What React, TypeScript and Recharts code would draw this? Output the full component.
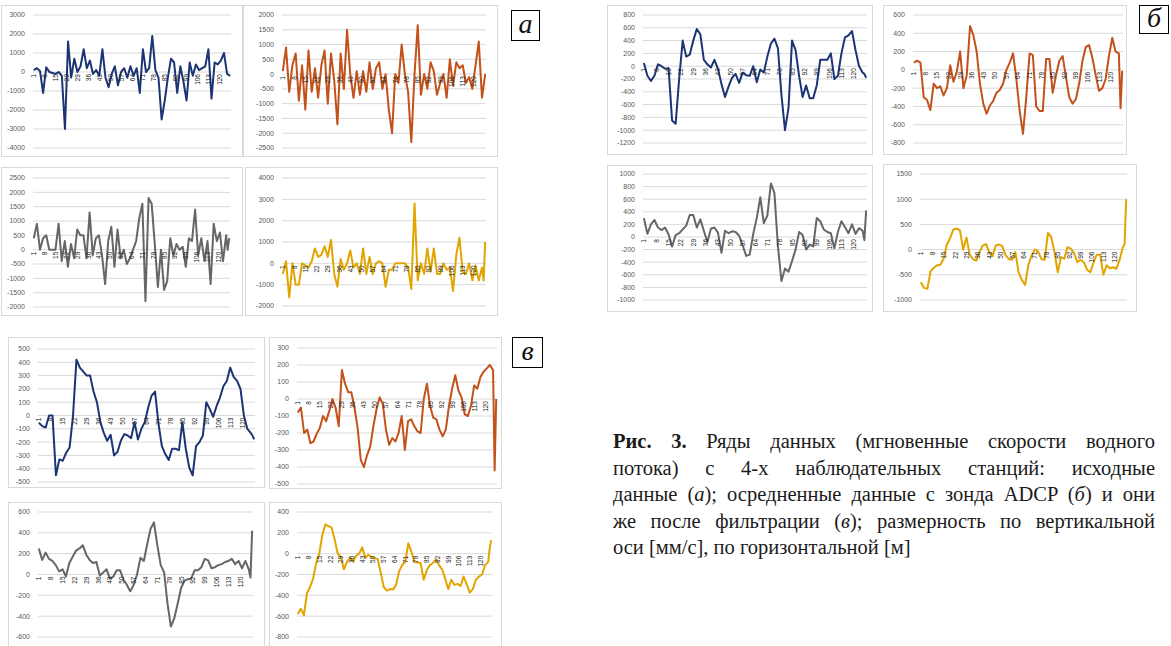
import React from "react";
import { LineChart, Line, XAxis, YAxis, CartesianGrid } from "recharts";

// measurement index (metres), every second point plus the last ones
const xIndex = [
  1, 3, 5, 7, 9, 11, 13, 15, 17, 19, 21, 23, 25, 27, 29, 31, 33, 35, 37, 39,
  41, 43, 45, 47, 49, 51, 53, 55, 57, 59, 61, 63, 65, 67, 69, 71, 73, 75, 77, 79,
  81, 83, 85, 87, 89, 91, 93, 95, 97, 99, 101, 103, 105, 107, 109, 111, 113, 115,
  117, 119, 121, 123, 125, 126, 127,
];
const xTicks = [1, 8, 15, 22, 29, 36, 43, 50, 57, 64, 71, 78, 85, 92, 99, 106, 113, 120];

// (а) raw data
const rawSt1 = [
  100, 200, 50, -1100, 250, 0, -50, -100, 0, -200,
  -3000, 1600, -300, 700, 0, 300, 1200, 200, 600, -100,
  100, -200, 1200, -300, -800, -100, 300, -700, 0, 200,
  -300, 300, -200, 200, -1100, 1200, 0, 200, 1900, 100,
  -300, -2500, -1500, -300, 700, 500, -1100, 300, -500, -1500,
  500, -200, 400, 100, 200, 300, 1200, -1400, 500, 400,
  600, 1000, -100, -150, -200,
];
const rawSt2 = [
  100, 900, -600, 300, 700, -900, 300, -1200, 800, -600,
  200, -800, 300, 800, -1000, 700, -200, -1700, 700, -500,
  1500, 0, -800, 100, -700, 100, -600, 400, -500, 200,
  400, -500, 0, -1200, -2000, 0, -300, 1000, 0, -600,
  -2300, 0, 1650, -700, 0, -500, 400, 100, -700, -300,
  0, -800, 500, -400, 400, 200, 300, -300, -100, -500,
  300, 1100, -800, -400, 0,
];
const rawSt3 = [
  400, 900, 0, 400, 500, 0, 0, 0, 900, -400,
  300, -600, 200, -300, 700, 500, 500, -300, 1300, -200,
  400, 500, -200, -1200, 300, 800, -600, 700, -300, 0,
  -500, -300, 0, 300, 1100, 1600, -1800, 1800, 1600, 200,
  -1300, 0, -1400, -1100, 400, -200, 200, 0, 100, -600,
  400, 300, 1400, -200, 400, -400, 300, -1200, 900, 300,
  600, -400, 500, 0, 400,
];
const rawSt4 = [
  -500, 100, -1600, 0, -1000, -1000, 0, -100, -200, 100,
  700, 300, 400, 800, 300, 1100, -500, -1100, 200, -300,
  0, 600, -200, 0, -500, 700, -500, 300, -500, 0,
  100, 0, -1100, -300, -300, 0, 0, 0, 0, -200,
  -1200, 2800, -800, 0, -500, 700, -400, 700, -500, -500,
  0, -300, -200, -1300, 400, 1200, -400, -500, 0, -800,
  -100, -800, -200, -800, 1000,
];

// (б) ADCP averaged
const avgSt1 = [
  50, -150, -230, -150, 30, 0, -40, -30, -850, -900,
  -200, 400, 150, 180, 400, 580, 500, 100, 30, -20,
  100, -40, -280, -480, -320, -180, -120, -260, -100, -140,
  -150, 0, -250, -50, -100, 150, 350, 430, 280, -450,
  -1000, -650, 400, 250, -150, -480, -300, -500, -500, -300,
  100, 100, 100, 200, -200, -150, 200, 450, 480, 550,
  250, 0, -100, -120, -180,
];
const avgSt2 = [
  80, 100, 80, -300, -330, -440, -150, -200, -180, -280,
  -200, 50, -130, -20, 200, -200, -60, 480, 380, 200,
  -150, -370, -480, -390, -340, -250, -220, -150, 0, 80,
  180, -100, -450, -700, -300, 180, 160, -400, -450, -450,
  120, 120, -250, -60, 100, 150, -80, -300, -370, -320,
  -150, 100, 250, 270, 130, -60, -230, -200, -100, 150,
  350, 200, 180, -420, -10,
];
const avgSt3 = [
  300, 50, 200, 270, 150, 110, 150, 40, -150, 30,
  60, 120, 180, 350, 350, 150, 280, 100, -80, 130,
  150, 70, -250, 100, 60, 90, 80, 20, -130, -300,
  -280, 50, 300, 630, 220, 340, 850, 700, -150, -700,
  -500, -550, -380, -200, 80, 30, -200, -120, -150, 300,
  250, 120, 80, 60, -180, 80, 250, 160, 60, 200,
  50, 140, 100, -50, 420,
];
const avgSt4 = [
  -650, -760, -780, -430, -360, -310, -300, -180, 100, 230,
  400, 420, 380, 0, 240, -100, -190, -220, -50, 80,
  110, -50, -130, 80, 100, 70, -110, -190, -200, -50,
  -450, -600, -700, -300, -110, 0, -40, -190, -200, 330,
  250, -50, -450, -150, -180, 50, 20, -70, -250, -200,
  -250, -400, -450, -250, -100, -100, -500, -310, -370, -350,
  -380, -200, 50, 100, 1000,
];

// (в) after filtering
const filtSt1 = [
  -55, -80, -90, 0, 0, -450, -330, -340, -280, -240,
  0, 420, 360, 330, 300, 300, 180, 100, -50, -130,
  -190, -145, -300, -275, -190, -140, -150, -170, -50, -180,
  -100, -50, 60, 150, 180, -60, -230, -290, -335, -250,
  -250, -260, -50, -250, -390, -450, -230, -200, -150, 100,
  50, -10, 70, 135, 220, 260, 360, 290, 260, 200,
  0, -100, -130, -150, -180,
];
const filtSt2 = [
  -80, -50, -200, -180, -260, -250, -205, -170, -100, -130,
  -70, 0, -50, -160, 170, 90, 40, 40, -50, -170,
  -360, -400, -330, -280, -160, -60, 10, -30, -180, -270,
  -230, -250, -200, -100, -300, -130, -120, -160, -190, -200,
  0, 90, -40, -110, -120, -180, -220, -180, -40, 60,
  140, 50, 10, -90, -100, -40, 80, 60, 130, 160,
  180, 200, 170, -420, 0,
];
const filtSt3 = [
  250, 140, 210, 150, 130, 90, 30, 50, -20, 110,
  170, 230, 250, 280, 190, 140, 110, 120, -10, 20,
  50, -40, -20, 40, 40, -50, -100, -160, -100, 0,
  160, 130, 290, 440, 500, 280, 90, 20, -280, -500,
  -420, -280, -130, -60, -45, -40, 40, 40, 70, 150,
  135, 60, 70, 90, 100, 120, 130, 150, 100, 130,
  60, 130, 50, -30, 420,
];
const filtSt4 = [
  -580, -530, -590, -380, -320, -240, -90, 0, 180, 280,
  265, 250, 140, 0, -30, -150, -80, -40, -75, -20,
  0, 60, -40, -10, -30, -45, -50, -180, -320, -355,
  -340, -345, -300, -170, -110, -80, 100, 20, -80, -85,
  -90, -250, -160, -110, -90, -55, -110, -150, -240, -340,
  -250, -300, -290, -310, -220, -290, -375, -340, -250, -220,
  -200, -110, -80, 50, 130,
];

// y-axis ticks
const a1Ticks = [-4000, -3000, -2000, -1000, 0, 1000, 2000, 3000];
const a2Ticks = [-2500, -2000, -1500, -1000, -500, 0, 500, 1000, 1500, 2000];
const a3Ticks = [-2000, -1500, -1000, -500, 0, 500, 1000, 1500, 2000, 2500];
const a4Ticks = [-2000, -1000, 0, 1000, 2000, 3000, 4000];
const b1Ticks = [-1200, -1000, -800, -600, -400, -200, 0, 200, 400, 600, 800];
const b2Ticks = [-800, -600, -400, -200, 0, 200, 400, 600];
const b3Ticks = [-1000, -800, -600, -400, -200, 0, 200, 400, 600, 800, 1000];
const b4Ticks = [-1000, -500, 0, 500, 1000, 1500];
const c1Ticks = [-500, -400, -300, -200, -100, 0, 100, 200, 300, 400, 500];
const c2Ticks = [-500, -400, -300, -200, -100, 0, 100, 200, 300];
const c3Ticks = [-600, -400, -200, 0, 200, 400, 600];
const c4Ticks = [-800, -600, -400, -200, 0, 200, 400];

const BLUE = "#1c3474";
const ORANGE = "#c2521a";
const GRAY = "#666666";
const GOLD = "#e2a500";

type Box = { x: number; y: number; w: number; h: number };
type Plot = { x1: number; y1: number; x2: number; y2: number };

type MiniProps = {
  box: Box;
  plot: Plot;
  values: number[];
  color: string;
  yTicks: number[];
};

function MiniChart({ box, plot, values, color, yTicks }: MiniProps) {
  const data = xIndex.map((x, i) => ({ x, v: values[i] }));
  const innerW = box.w - 2;
  const innerH = box.h - 2;
  const left = plot.x1 - box.x - 1;
  const top = plot.y1 - box.y - 1;
  const right = innerW - (plot.x2 - box.x - 1);
  const bottom = innerH - (plot.y2 - box.y - 1) - 1;
  const yMin = yTicks[0];
  const yMax = yTicks[yTicks.length - 1];
  // category labels sit on the zero line, as in Excel
  const zeroY = top + ((plot.y2 - plot.y1) * yMax) / (yMax - yMin);

  const renderXTick = (props: any) => {
    const ty = zeroY + 2;
    return (
      <text
        x={props.x}
        y={ty}
        transform={`rotate(-90 ${props.x} ${ty})`}
        textAnchor="end"
        dominantBaseline="central"
        fontSize={6.5}
        fontFamily="Liberation Sans"
        fill="#222"
      >
        {props.payload.value}
      </text>
    );
  };

  return (
    <div
      style={{
        position: "absolute",
        left: box.x,
        top: box.y,
        width: box.w,
        height: box.h,
        border: "1px solid #d9d9d9",
        boxSizing: "border-box",
        background: "#fff",
        overflow: "hidden",
      }}
    >
      <LineChart
        width={innerW}
        height={innerH}
        data={data}
        margin={{ top, right, bottom, left: 0 }}
      >
        <CartesianGrid vertical={false} stroke="#d9d9d9" />
        <XAxis
          dataKey="x"
          type="number"
          domain={[0.5, 127.5]}
          ticks={xTicks}
          interval={0}
          height={1}
          tickLine={false}
          axisLine={false}
          tick={renderXTick}
        />
        <YAxis
          type="number"
          domain={[yMin, yMax]}
          ticks={yTicks}
          interval={0}
          width={left}
          tickLine={false}
          axisLine={false}
          tick={{ fontSize: 7, fill: "#595959", fontFamily: "Liberation Sans" }}
        />
        <Line
          type="linear"
          dataKey="v"
          stroke={color}
          strokeWidth={2}
          strokeLinejoin="round"
          dot={false}
          isAnimationActive={false}
        />
      </LineChart>
    </div>
  );
}

function Letter({ x, y, w, h, ch }: { x: number; y: number; w: number; h: number; ch: string }) {
  return (
    <div
      style={{
        position: "absolute",
        left: x,
        top: y,
        width: w,
        height: h,
        border: "1px solid #000",
        boxSizing: "border-box",
        display: "flex",
        alignItems: "center",
        justifyContent: "center",
        fontFamily: "Liberation Serif",
        fontStyle: "italic",
        fontSize: 28,
        lineHeight: 1,
        color: "#111",
        paddingBottom: 3,
      }}
    >
      {ch}
    </div>
  );
}

const lineStyle: React.CSSProperties = {
  textAlign: "justify",
  textAlignLast: "justify",
  whiteSpace: "nowrap",
  height: 26.5,
};

export default function App() {
  return (
    <div
      style={{
        position: "absolute",
        left: 0,
        top: 0,
        width: 1171,
        height: 646,
        overflow: "hidden",
        background: "#fff",
      }}
    >
      <MiniChart box={{ x: 1, y: 5, w: 242, h: 152 }} plot={{ x1: 33, y1: 15, x2: 231, y2: 148 }} values={rawSt1} color={BLUE} yTicks={a1Ticks} />
      <MiniChart box={{ x: 243, y: 5, w: 255, h: 152 }} plot={{ x1: 282, y1: 15, x2: 486, y2: 148 }} values={rawSt2} color={ORANGE} yTicks={a2Ticks} />
      <MiniChart box={{ x: 1, y: 167, w: 242, h: 149 }} plot={{ x1: 33, y1: 178, x2: 230, y2: 307 }} values={rawSt3} color={GRAY} yTicks={a3Ticks} />
      <MiniChart box={{ x: 245, y: 167, w: 253, h: 149 }} plot={{ x1: 282, y1: 178, x2: 486, y2: 306 }} values={rawSt4} color={GOLD} yTicks={a4Ticks} />

      <MiniChart box={{ x: 607, y: 5, w: 266, h: 150 }} plot={{ x1: 643, y1: 15, x2: 867, y2: 143 }} values={avgSt1} color={BLUE} yTicks={b1Ticks} />
      <MiniChart box={{ x: 883, y: 5, w: 244, h: 150 }} plot={{ x1: 913, y1: 15, x2: 1123, y2: 143 }} values={avgSt2} color={ORANGE} yTicks={b2Ticks} />
      <MiniChart box={{ x: 607, y: 165, w: 266, h: 147 }} plot={{ x1: 643, y1: 174, x2: 867, y2: 300 }} values={avgSt3} color={GRAY} yTicks={b3Ticks} />
      <MiniChart box={{ x: 883, y: 164, w: 254, h: 148 }} plot={{ x1: 920, y1: 174, x2: 1127, y2: 300 }} values={avgSt4} color={GOLD} yTicks={b4Ticks} />

      <MiniChart box={{ x: 8, y: 337, w: 257, h: 151 }} plot={{ x1: 38, y1: 349, x2: 255, y2: 482 }} values={filtSt1} color={BLUE} yTicks={c1Ticks} />
      <MiniChart box={{ x: 269, y: 337, w: 233, h: 152 }} plot={{ x1: 297, y1: 348, x2: 497, y2: 484 }} values={filtSt2} color={ORANGE} yTicks={c2Ticks} />
      <MiniChart box={{ x: 8, y: 502, w: 257, h: 160 }} plot={{ x1: 38, y1: 512, x2: 253, y2: 637 }} values={filtSt3} color={GRAY} yTicks={c3Ticks} />
      <MiniChart box={{ x: 269, y: 502, w: 233, h: 160 }} plot={{ x1: 297, y1: 512, x2: 492, y2: 637 }} values={filtSt4} color={GOLD} yTicks={c4Ticks} />

      <Letter x={511} y={10} w={29} h={31} ch="а" />
      <Letter x={1139} y={5} w={30} h={29} ch="б" />
      <Letter x={512} y={337} w={31} h={31} ch="в" />

      <div
        style={{
          position: "absolute",
          left: 613,
          top: 428,
          width: 542,
          fontFamily: "Liberation Serif",
          fontSize: 20.5,
          lineHeight: "26.5px",
          color: "#1a1a1a",
        }}
      >
        <div style={lineStyle}>
          <b>Рис. 3.</b> Ряды данных (мгновенные скорости водного
        </div>
        <div style={lineStyle}>потока) с 4-х наблюдательных станций: исходные</div>
        <div style={lineStyle}>
          данные (<i>а</i>); осредненные данные с зонда ADCP (<i>б</i>) и они
        </div>
        <div style={lineStyle}>
          же после фильтрации (<i>в</i>); размерность по вертикальной
        </div>
        <div style={{ whiteSpace: "nowrap" }}>оси [мм/с], по горизонтальной [м]</div>
      </div>
    </div>
  );
}
